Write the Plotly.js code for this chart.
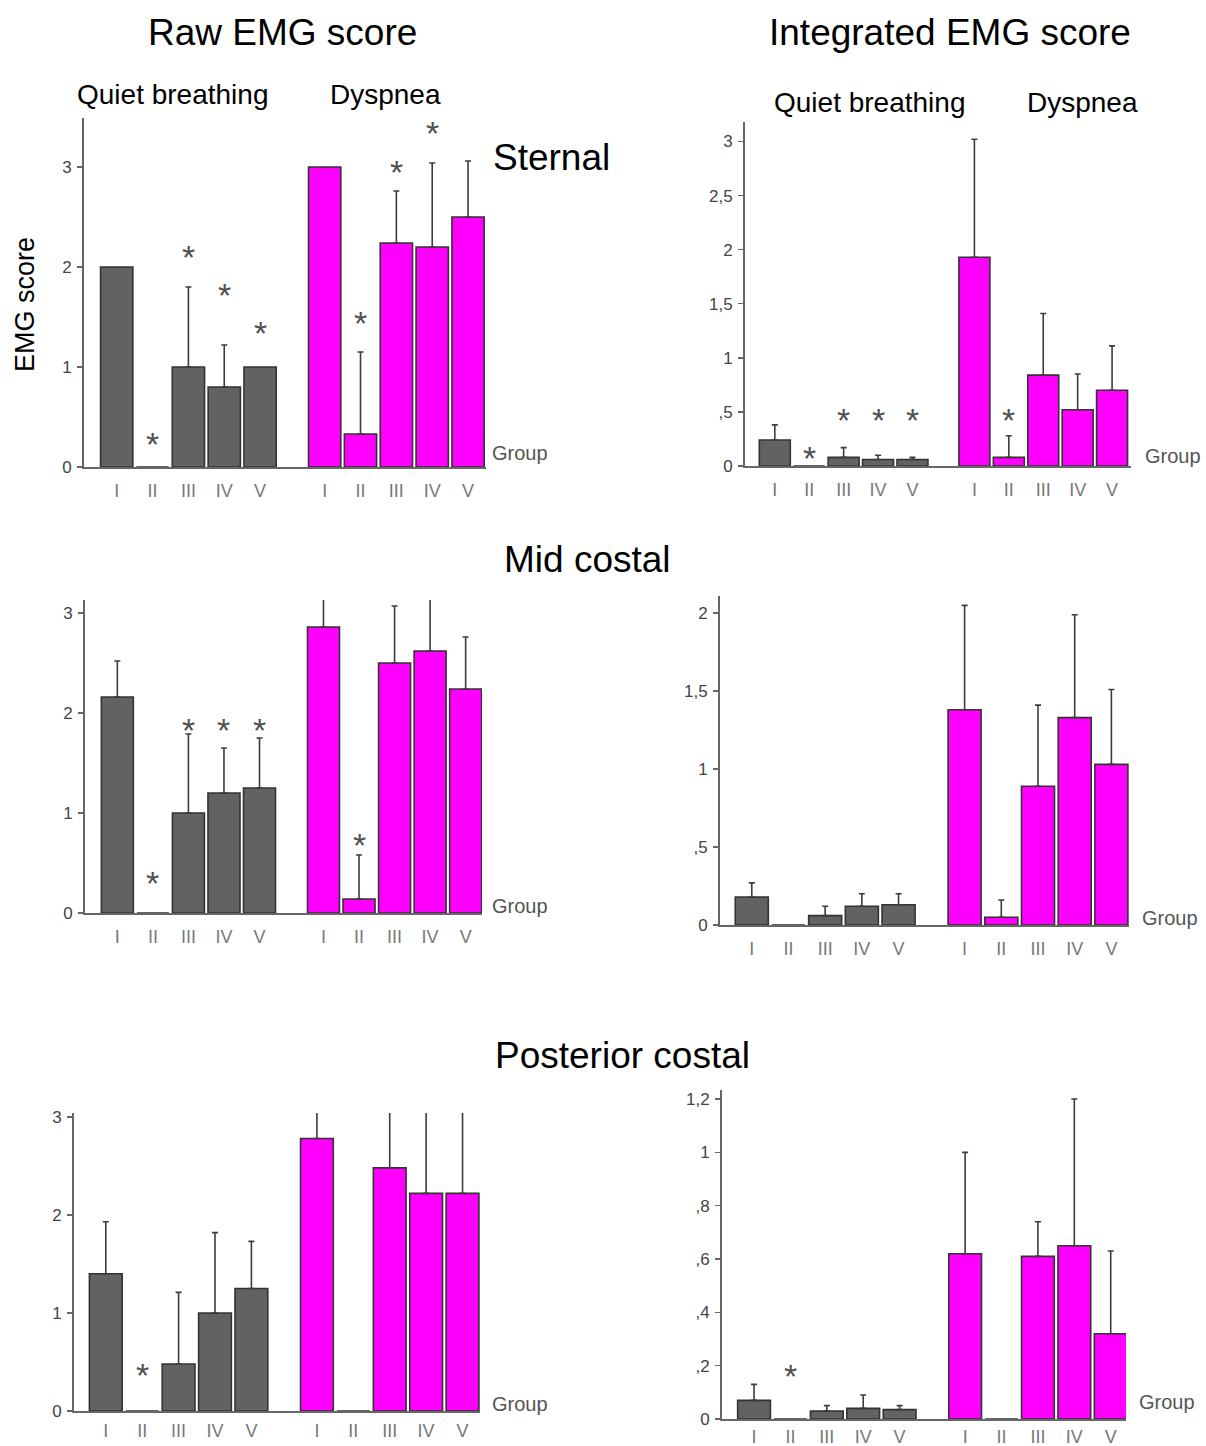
<!DOCTYPE html>
<html>
<head>
<meta charset="utf-8">
<script src="https://cdn.plot.ly/plotly-3.0.1.min.js"></script>
<style>html,body{margin:0;padding:0;background:#fff;}#chart{width:1206px;height:1446px;}</style>
</head>
<body>
<div id="chart"></div>
<script>
// ---------------- DATA ----------------
const groups = ['I', 'II', 'III', 'IV', 'V'];
const seriesNames = ['Quiet breathing', 'Dyspnea'];

// Raw EMG score – Sternal
const rawSternalQuiet = [2.0, 0, 1.0, 0.8, 1.0];
const rawSternalQuietErr = [null, null, 1.8, 1.22, null];
const rawSternalDysp = [3.0, 0.33, 2.24, 2.2, 2.5];
const rawSternalDyspErr = [null, 1.15, 2.76, 3.04, 3.06];
const rawSternalQuietStar = [null, 0.33, 2.2, 1.82, 1.44];
const rawSternalDyspStar = [null, 1.54, 3.05, 3.44, null];

// Integrated EMG score – Sternal
const intSternalQuiet = [0.24, 0, 0.08, 0.06, 0.06];
const intSternalQuietErr = [0.38, null, 0.17, 0.10, 0.08];
const intSternalDysp = [1.93, 0.08, 0.84, 0.52, 0.70];
const intSternalDyspErr = [3.02, 0.28, 1.41, 0.85, 1.11];
const intSternalQuietStar = [null, 0.17, 0.52, 0.52, 0.52];
const intSternalDyspStar = [null, 0.52, null, null, null];

// Raw EMG score – Mid costal
const rawMidQuiet = [2.16, 0, 1.0, 1.2, 1.25];
const rawMidQuietErr = [2.52, null, 1.79, 1.65, 1.75];
const rawMidDysp = [2.86, 0.14, 2.5, 2.62, 2.24];
const rawMidDyspErr = [3.23, 0.58, 3.07, 3.15, 2.76];
const rawMidQuietStar = [null, 0.4, 1.93, 1.93, 1.93];
const rawMidDyspStar = [null, 0.78, null, null, null];

// Integrated EMG score – Mid costal
const intMidQuiet = [0.18, 0, 0.06, 0.12, 0.13];
const intMidQuietErr = [0.27, null, 0.12, 0.20, 0.20];
const intMidDysp = [1.38, 0.05, 0.89, 1.33, 1.03];
const intMidDyspErr = [2.05, 0.16, 1.41, 1.99, 1.51];
const intMidQuietStar = [null, null, null, null, null];
const intMidDyspStar = [null, null, null, null, null];

// Raw EMG score – Posterior costal
const rawPostQuiet = [1.4, 0, 0.48, 1.0, 1.25];
const rawPostQuietErr = [1.93, null, 1.21, 1.82, 1.73];
const rawPostDysp = [2.78, 0, 2.48, 2.22, 2.22];
const rawPostDyspErr = [3.21, null, 3.2, 3.2, 3.2];
const rawPostQuietStar = [null, 0.47, null, null, null];
const rawPostDyspStar = [null, null, null, null, null];

// Integrated EMG score – Posterior costal
const intPostQuiet = [0.07, 0, 0.03, 0.04, 0.035];
const intPostQuietErr = [0.13, null, 0.05, 0.09, 0.05];
const intPostDysp = [0.62, 0, 0.61, 0.65, 0.32];
const intPostDyspErr = [1.0, null, 0.74, 1.2, 0.63];
const intPostQuietStar = [null, 0.2, null, null, null];
const intPostDyspStar = [null, null, null, null, null];

// Y tick labels
const rawTickVals = [0, 1, 2, 3];
const rawTickText = ['0', '1', '2', '3'];
const intSternalTickVals = [0, 0.5, 1, 1.5, 2, 2.5, 3];
const intSternalTickText = ['0', ',5', '1', '1,5', '2', '2,5', '3'];
const intMidTickVals = [0, 0.5, 1, 1.5, 2];
const intMidTickText = ['0', ',5', '1', '1,5', '2'];
const intPostTickVals = [0, 0.2, 0.4, 0.6, 0.8, 1, 1.2];
const intPostTickText = ['0', ',2', ',4', ',6', ',8', '1', '1,2'];

// ---------------- LAYOUT HELPERS ----------------
const W = 1206, H = 1446;
const fx = px => px / W;
const fy = py => 1 - py / H;
const GRAY = '#626262', MAGENTA = '#ff00ff';
const GROUP_GAP = 5.8; // offset of the dyspnea block on the x axis

const panels = [
  {q: rawSternalQuiet, qe: rawSternalQuietErr, d: rawSternalDysp, de: rawSternalDyspErr, qs: rawSternalQuietStar, ds: rawSternalDyspStar,
   xpx: [84, 486], ypx: [118, 467], xr: [0.088, 11.30], yr: [0, 3.49], tv: rawTickVals, tt: rawTickText, group: [490, 453], so: 6},
  {q: intSternalQuiet, qe: intSternalQuietErr, d: intSternalDysp, de: intSternalDyspErr, qs: intSternalQuietStar, ds: intSternalDyspStar,
   xpx: [745, 1131], ypx: [122, 466], xr: [0.134, 11.35], yr: [0, 3.18], tv: intSternalTickVals, tt: intSternalTickText, group: [1143, 456], so: 6},
  {q: rawMidQuiet, qe: rawMidQuietErr, d: rawMidDysp, de: rawMidDyspErr, qs: rawMidQuietStar, ds: rawMidDyspStar,
   xpx: [85, 482], ypx: [600, 913], xr: [0.09, 11.26], yr: [0, 3.13], tv: rawTickVals, tt: rawTickText, group: [490, 906], so: 6},
  {q: intMidQuiet, qe: intMidQuietErr, d: intMidDysp, de: intMidDyspErr, qs: intMidQuietStar, ds: intMidDyspStar,
   xpx: [720, 1129], ypx: [596, 925], xr: [0.134, 11.28], yr: [0, 2.11], tv: intMidTickVals, tt: intMidTickText, group: [1140, 918], so: 6},
  {q: rawPostQuiet, qe: rawPostQuietErr, d: rawPostDysp, de: rawPostDyspErr, qs: rawPostQuietStar, ds: rawPostDyspStar,
   xpx: [74, 480], ypx: [1113, 1411], xr: [0.127, 11.28], yr: [0, 3.04], tv: rawTickVals, tt: rawTickText, group: [490, 1404], so: 2},
  {q: intPostQuiet, qe: intPostQuietErr, d: intPostDysp, de: intPostDyspErr, qs: intPostQuietStar, ds: intPostDyspStar,
   xpx: [722, 1126], ypx: [1090, 1419], xr: [0.12, 11.22], yr: [0, 1.234], tv: intPostTickVals, tt: intPostTickText, group: [1137, 1402], so: 0}
];

const posQ = groups.map((g, i) => i + 1);
const posD = groups.map((g, i) => i + 1 + GROUP_GAP);

const traces = [];
const annotations = [];
const layout = {
  width: W, height: H,
  margin: {l: 0, r: 0, t: 0, b: 0},
  paper_bgcolor: '#ffffff', plot_bgcolor: 'rgba(0,0,0,0)',
  showlegend: false, barmode: 'overlay',
  font: {family: 'Liberation Sans, Arial, sans-serif', color: '#000'},
  annotations: annotations
};

function errArrays(vals, errs) {
  return {
    type: 'data', symmetric: false, visible: true,
    array: errs.map((e, i) => e == null ? NaN : e - vals[i]),
    arrayminus: errs.map(e => e == null ? NaN : 0),
    color: '#3c3c3c', thickness: 1.6, width: 3
  };
}

panels.forEach((p, k) => {
  const sfx = k === 0 ? '' : String(k + 1);
  const xa = 'x' + sfx, ya = 'y' + sfx;
  [[p.q, p.qe, posQ, GRAY, seriesNames[0]], [p.d, p.de, posD, MAGENTA, seriesNames[1]]].forEach(([vals, errs, pos, col, nm]) => {
    traces.push({
      type: 'bar', name: nm, x: pos, y: vals, xaxis: xa, yaxis: ya,
      width: 0.9, cliponaxis: false,
      marker: {color: col, line: {color: '#333333', width: 1.6}},
      error_y: errArrays(vals, errs),
      hoverinfo: 'skip'
    });
  });
  layout['xaxis' + sfx] = {
    domain: [fx(p.xpx[0]), fx(p.xpx[1])], anchor: ya, range: p.xr, fixedrange: true,
    showgrid: false, zeroline: false, showline: true, linecolor: '#666', linewidth: 2,
    tickmode: 'array', tickvals: posQ.concat(posD), ticktext: groups.concat(groups),
    ticks: '', ticklabelstandoff: p.so,
    tickfont: {size: 18, color: '#777', family: 'Liberation Sans, Arial, sans-serif'}
  };
  layout['yaxis' + sfx] = {
    domain: [fy(p.ypx[1]), fy(p.ypx[0])], anchor: xa, range: p.yr, fixedrange: true,
    showgrid: false, zeroline: false, showline: true, linecolor: '#666', linewidth: 2,
    tickmode: 'array', tickvals: p.tv, ticktext: p.tt,
    ticks: 'outside', ticklen: 5, tickwidth: 1.5, tickcolor: '#666', ticklabelstandoff: 2,
    tickfont: {size: 17, color: '#444', family: 'Liberation Sans, Arial, sans-serif'}
  };
  // asterisks
  [[p.qs, posQ], [p.ds, posD]].forEach(([stars, pos]) => {
    stars.forEach((s, i) => {
      if (s == null) return;
      annotations.push({xref: xa, yref: ya, x: pos[i], y: s, text: '*', showarrow: false,
        font: {size: 34, color: '#505050'}, xanchor: 'center', yanchor: 'middle', yshift: -10});
    });
  });
  // "Group" label
  annotations.push({xref: 'paper', yref: 'paper', x: fx(p.group[0]), y: fy(p.group[1]), text: 'Group',
    showarrow: false, xanchor: 'left', yanchor: 'middle', font: {size: 20, color: '#555'}});
});

function txt(t, px, py, size, extra) {
  annotations.push(Object.assign({xref: 'paper', yref: 'paper', x: fx(px), y: fy(py), text: t,
    showarrow: false, xanchor: 'center', yanchor: 'middle', font: {size: size, color: '#000'}}, extra || {}));
}
txt('Raw EMG score', 282, 32, 37);
txt('Integrated EMG score', 950, 32, 37);
txt('Quiet breathing', 172, 95, 28);
txt('Dyspnea', 385, 95, 28);
txt('Quiet breathing', 869, 103, 28);
txt('Dyspnea', 1082, 103, 28);
txt('Sternal', 551, 157, 37);
txt('Mid costal', 587, 560, 37);
txt('Posterior costal', 622, 1055, 37);
txt('EMG score', 25, 305, 27, {textangle: -90});

Plotly.newPlot('chart', traces, layout, {staticPlot: true, displayModeBar: false});
</script>
</body>
</html>
